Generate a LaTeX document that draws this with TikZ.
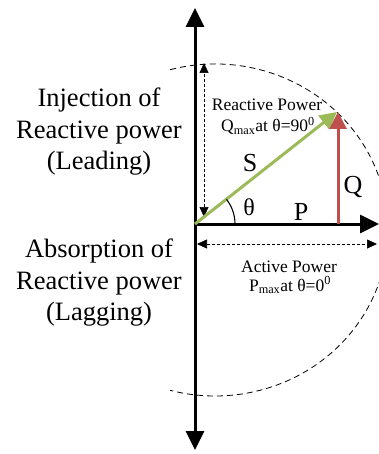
\documentclass[tikz,border=0pt]{standalone}
\usepackage{fontspec}
\setmainfont{Liberation Serif}
\usetikzlibrary{arrows.meta}
\definecolor{sgreen}{RGB}{155,187,89}
\definecolor{qred}{RGB}{192,80,77}
\begin{document}
\begin{tikzpicture}[x=1pt,y=-1pt,
  axis/.style={line width=3pt,-{Triangle[length=19pt,width=18pt]}},
  axisboth/.style={line width=3pt,{Triangle[length=19pt,width=18pt]}-{Triangle[length=19pt,width=18pt]}},
  vec/.style={line width=3pt,-{Triangle[length=17pt,width=17pt]}},
  dimarrow/.style={line width=0.7pt,dash pattern=on 3pt off 2pt,{Triangle[length=10pt,width=9pt]}-{Triangle[length=10pt,width=9pt]}},
  bigtext/.style={font=\fontsize{26.5}{31.5}\selectfont,align=center,inner sep=0pt},
  smalltext/.style={font=\fontsize{17.5}{20}\selectfont,inner sep=0pt,anchor=base},
  vlabel/.style={font=\fontsize{26}{30}\selectfont,inner sep=0pt}
]
\useasboundingbox (0,0) rectangle (379,454);
\clip (0,0) rectangle (379,454);

% coordinates
\coordinate (O) at (195,224);
\coordinate (Ytop) at (195,8);
\coordinate (Ybot) at (195,450);
\coordinate (Xend) at (379,224);
\coordinate (Stip) at (337,112);
\coordinate (Qbase) at (338,224);
\coordinate (Qtip) at (338,112);
\coordinate (VdA) at (204,217);
\coordinate (VdB) at (204,63);
\coordinate (HdA) at (197,244);
\coordinate (HdB) at (377,244);
\coordinate (EC) at (215,230);

% dashed capability ellipse
\draw[line width=0.8pt,dash pattern=on 6pt off 4pt]
  (EC) ++(105:173pt and 166pt) arc[start angle=105,end angle=-105,x radius=173pt,y radius=166pt];

% dashed dimension arrows
\draw[dimarrow] (VdA) -- (VdB);
\draw[dimarrow] (HdA) -- (HdB);

% axes
\draw[axisboth] (Ybot) -- (Ytop);
\draw[axis] (O) -- (Xend);

% vectors
\draw[vec,color=sgreen] (O) -- (Stip);
\draw[vec,color=qred] (Qbase) -- (Qtip);

% angle arc
\draw[line width=1.1pt] (O) ++(0:40pt) arc[start angle=0,end angle=38,radius=40pt];

% labels
\node[vlabel] (S) at (250,163) {S};
\node[vlabel] (Q) at (353,187) {Q};
\node[vlabel] (P) at (301,212) {P};
\node[font=\fontsize{24}{28}\selectfont,inner sep=0pt] (th) at (249,207) {θ};

\node[smalltext] (rp) at (267,111) {Reactive Power};
\node[smalltext] (qm) at (268,132) {Q\textsubscript{max}at θ=90\textsuperscript{0}};
\node[smalltext] (ap) at (289,272) {Active Power};
\node[smalltext] (pm) at (290,291) {P\textsubscript{max}at θ=0\textsuperscript{0}};

\node[bigtext] (inj) at (99,132) {Injection of\\Reactive power\\(Leading)};
\node[bigtext] (abs) at (99,283) {Absorption of\\Reactive power\\(Lagging)};
\end{tikzpicture}
\end{document}
